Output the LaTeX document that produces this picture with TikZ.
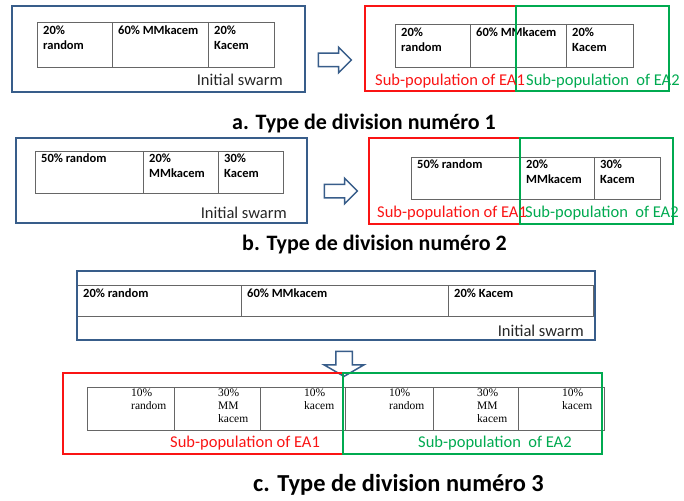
\documentclass[tikz,border=0pt]{standalone}
\usepackage{fontspec}
\setmainfont{Carlito}
\newfontfamily\timesfont{Liberation Serif}
\usetikzlibrary{shapes.arrows}

\definecolor{swarmblue}{RGB}{56,93,138}
\definecolor{eaone}{RGB}{250,20,20}
\definecolor{eatwo}{RGB}{0,170,80}

\tikzset{
    swarm/.style = {draw = swarmblue, line width = 2pt},
    subone/.style = {draw = eaone, line width = 2pt},
    subtwo/.style = {draw = eatwo, line width = 2pt},
    tablegrid/.style = {draw = black!60, line width = 0.9pt},
    celltext/.style = {anchor = north west, inner sep = 0pt, align = left,
        font = \fontsize{12.5}{15}\selectfont\bfseries},
    serifcell/.style = {anchor = north west, inner sep = 0pt, align = left,
        font = \fontsize{11.5}{13}\selectfont\timesfont},
    swarmlabel/.style = {anchor = base east, inner sep = 0pt, text = black!85,
        font = \fontsize{16.5}{18}\selectfont},
    subtext/.style = {anchor = base west, inner sep = 0pt,
        font = \fontsize{16.5}{18}\selectfont},
    divtitle/.style = {anchor = base west, inner sep = 0pt,
        font = \fontsize{22}{24}\selectfont\bfseries},
    blockarrow/.style = {single arrow, draw = swarmblue, fill = white,
        line width = 1.5pt, inner xsep = 0pt, inner ysep = 6pt,
        minimum height = 33pt, single arrow head extend = 6pt}
}

\begin{document}
\begin{tikzpicture}[x = 1pt, y = -1pt]
    \useasboundingbox (0,0) rectangle (684,500);

    % a. division 1
    \draw[swarm] (12,6) rectangle (305,92);
    \draw[tablegrid] (37,22) rectangle (274,67) (112,22) -- (112,67) (208,22) -- (208,67);
    \node[celltext] (aRandom) at (43,26) {20\%\\random};
    \node[celltext] (aMM) at (118,26) {60\% MMkacem};
    \node[celltext] (aKacem) at (214,26) {20\%\\Kacem};
    \node[swarmlabel] (aInit) at (283,85) {Initial swarm};
    \node[blockarrow] (aArrow) at (331.5,60) {};

    \draw[tablegrid] (395,24) rectangle (633,67) (470,24) -- (470,67) (566,24) -- (566,67);
    \node[celltext] (aRandomR) at (401,28) {20\%\\random};
    \node[celltext] (aMMR) at (476,28) {60\% MMkacem};
    \node[celltext] (aKacemR) at (572,28) {20\%\\Kacem};
    \draw[subone] (365,6) rectangle (516,91);
    \draw[subtwo] (516,6) rectangle (669,91);
    \node[subtext, text = eaone] (aEAone) at (375,86) {Sub-population of EA1};
    \node[subtext, text = eatwo] (aEAtwo) at (526,86) {Sub-population~ of EA2};
    \node[divtitle] (aTitle) at (232,129) {a. Type de division numéro 1};

    % b. division 2
    \draw[swarm] (16,138) rectangle (307,223);
    \draw[tablegrid] (35,151) rectangle (283,193) (143,151) -- (143,193) (218,151) -- (218,193);
    \node[celltext] (bRandom) at (41,154) {50\% random};
    \node[celltext] (bMM) at (149,154) {20\%\\MMkacem};
    \node[celltext] (bKacem) at (224,154) {30\%\\Kacem};
    \node[swarmlabel] (bInit) at (287,218) {Initial swarm};
    \node[blockarrow] (bArrow) at (337.5,191) {};

    \draw[tablegrid] (411,157) rectangle (660,199) (520,157) -- (520,199) (594,157) -- (594,199);
    \node[celltext] (bRandomR) at (417,160) {50\% random};
    \node[celltext] (bMMR) at (526,160) {20\%\\MMkacem};
    \node[celltext] (bKacemR) at (600,160) {30\%\\Kacem};
    \draw[subone] (369,138) rectangle (520,224);
    \draw[subtwo] (520,138) rectangle (673,224);
    \node[subtext, text = eaone] (bEAone) at (377,217) {Sub-population of EA1};
    \node[subtext, text = eatwo] (bEAtwo) at (525,217) {Sub-population~ of EA2};
    \node[divtitle] (bTitle) at (242,250) {b. Type de division numéro 2};

    % c. division 3
    \draw[tablegrid] (77,285) rectangle (593,316) (241,285) -- (241,316) (448,285) -- (448,316);
    \draw[swarm] (77,271) rectangle (595,340);
    \node[celltext] (cRandom) at (83,289) {20\% random};
    \node[celltext] (cMM) at (247,289) {60\% MMkacem};
    \node[celltext] (cKacem) at (454,289) {20\% Kacem};
    \node[swarmlabel] (cInit) at (584,336) {Initial swarm};
    \node[blockarrow, shape border rotate = 270, inner sep = 7.5pt,
        single arrow head extend = 11.5pt, single arrow tip angle = 120,
        minimum height = 25pt, minimum width = 25pt] (cArrow) at (344,361.5) {};

    \draw[tablegrid] (87,387) rectangle (604,430);
    \foreach \x in {174,260,345,433,518}
        \draw[tablegrid] (\x,387) -- (\x,430);
    \foreach \x/\t [count = \i] in {87/{10\%\\random}, 174/{30\%\\MM\\kacem},
            260/{10\%\\kacem}, 345/{10\%\\random}, 433/{30\%\\MM\\kacem}, 518/{10\%\\kacem}}
        \node[serifcell] (cell\i) at (\x+44,389) {\t};
    \draw[subone] (63,373) rectangle (343,454);
    \draw[subtwo] (343,373) rectangle (602,454);
    \node[subtext, text = eaone] (cEAone) at (170,447) {Sub-population of EA1};
    \node[subtext, text = eatwo] (cEAtwo) at (418,447) {Sub-population~ of EA2};
    \node[divtitle, font = \fontsize{24.4}{26}\selectfont\bfseries] (cTitle) at (253,491)
        {c. Type de division numéro 3};
\end{tikzpicture}
\end{document}
